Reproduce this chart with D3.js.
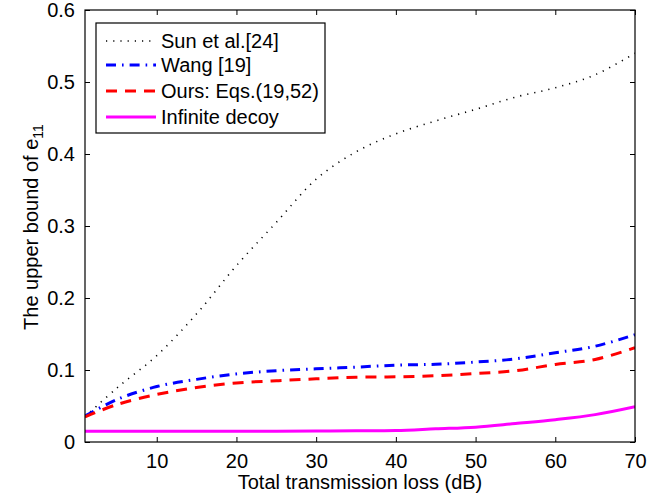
<!DOCTYPE html>
<html>
<head>
<meta charset="utf-8">
<script src="https://cdn.jsdelivr.net/npm/d3@7"></script>
<style>
  html, body { margin: 0; padding: 0; background: #fff; }
  svg text { font-family: "Liberation Sans", Arial, Helvetica, sans-serif; fill: #000; }
</style>
</head>
<body>
<svg id="chart" width="671" height="500"></svg>
<script>
// Total transmission loss (dB)
const lossDB = [1, 5, 10, 15, 20, 25, 30, 35, 40, 45, 50, 55, 60, 65, 70];

// Upper bound of e11 for each method
const sunEtAl  = [0.035, 0.075, 0.120, 0.178, 0.245, 0.305, 0.365, 0.403, 0.428, 0.446, 0.462, 0.479, 0.492, 0.510, 0.540];
const wang     = [0.036, 0.059, 0.077, 0.087, 0.0946, 0.099, 0.1016, 0.104, 0.1067, 0.108, 0.111, 0.1155, 0.124, 0.133, 0.149];
const ours     = [0.035, 0.052, 0.066, 0.0757, 0.082, 0.085, 0.0878, 0.090, 0.0906, 0.092, 0.095, 0.099, 0.1077, 0.1146, 0.131];
const infinite = [0.015, 0.015, 0.015, 0.015, 0.015, 0.015, 0.0152, 0.0155, 0.016, 0.0183, 0.0206, 0.0257, 0.031, 0.038, 0.049];

const xTicks = [10, 20, 30, 40, 50, 60, 70];
const yTicks = [0, 0.1, 0.2, 0.3, 0.4, 0.5, 0.6];

const seriesNames = ["Sun et al.[24]", "Wang [19]", "Ours: Eqs.(19,52)", "Infinite decoy"];
const seriesColors = ["#000000", "#0000ff", "#ff0000", "#ff00ff"];

const series = [
  { name: seriesNames[0], values: sunEtAl,  color: seriesColors[0], width: 1.6, dash: "1.2,6" },
  { name: seriesNames[1], values: wang,     color: seriesColors[1], width: 3,   dash: "10,6,1.6,6" },
  { name: seriesNames[2], values: ours,     color: seriesColors[2], width: 3,   dash: "11,8" },
  { name: seriesNames[3], values: infinite, color: seriesColors[3], width: 3,   dash: null }
];

const svg = d3.select("#chart");
const L = 85, R = 635, T = 10, B = 442;

const x = d3.scaleLinear().domain([1, 70]).range([L, R]);
const y = d3.scaleLinear().domain([0, 0.6]).range([B, T]);

const plot = svg.append("g");
plot.append("clipPath").attr("id", "clip")
  .append("rect").attr("x", L).attr("y", T).attr("width", R - L).attr("height", B - T);

const line = d3.line().curve(d3.curveCatmullRom.alpha(0.5));

const curves = plot.append("g").attr("clip-path", "url(#clip)");
series.forEach(s => {
  curves.append("path")
    .attr("d", line(lossDB.map((d, i) => [x(d), y(s.values[i])])))
    .attr("fill", "none")
    .attr("stroke", s.color)
    .attr("stroke-width", s.width)
    .attr("stroke-dasharray", s.dash)
    .attr("stroke-linejoin", "round");
});

// Axes: boxed frame with inward ticks on all four sides
const tickLen = 5;
const fmtY = v => v === 0 ? "0" : d3.format(".1f")(v);

const xBottom = d3.axisBottom(x).tickValues(xTicks).tickSize(-tickLen).tickPadding(12).tickFormat(d3.format("d"));
const xTop = d3.axisTop(x).tickValues(xTicks).tickSize(-tickLen).tickFormat("");
const yLeft = d3.axisLeft(y).tickValues(yTicks).tickSize(-tickLen).tickPadding(10).tickFormat(fmtY);
const yRight = d3.axisRight(y).tickValues(yTicks).tickSize(-tickLen).tickFormat("");

function styleAxis(g) {
  g.select(".domain").remove();
  g.selectAll(".tick line").attr("stroke", "#000").attr("stroke-width", 1);
  g.selectAll(".tick text").style("font-size", "20px").attr("fill", "#000");
}

svg.append("g").attr("transform", `translate(0,${B})`).call(xBottom).call(styleAxis);
svg.append("g").attr("transform", `translate(0,${T})`).call(xTop).call(styleAxis);
svg.append("g").attr("transform", `translate(${L},0)`).call(yLeft).call(styleAxis);
svg.append("g").attr("transform", `translate(${R},0)`).call(yRight).call(styleAxis);

svg.selectAll(".tick text").attr("font-family", null);

svg.append("rect")
  .attr("x", L).attr("y", T).attr("width", R - L).attr("height", B - T)
  .attr("fill", "none").attr("stroke", "#000").attr("stroke-width", 1.2);

// Axis titles
svg.append("text")
  .attr("x", (L + R) / 2).attr("y", 489)
  .attr("text-anchor", "middle")
  .style("font-size", "20px")
  .text("Total transmission loss (dB)");

const yt = svg.append("text")
  .attr("transform", "translate(38,227) rotate(-90)")
  .attr("text-anchor", "middle")
  .style("font-size", "20px");
yt.append("tspan").text("The upper bound of e");
yt.append("tspan").attr("dy", 5).style("font-size", "14px").text("11");

// Legend
const lg = svg.append("g");
lg.append("rect")
  .attr("x", 96).attr("y", 23).attr("width", 229).attr("height", 110)
  .attr("fill", "#fff").attr("stroke", "#000").attr("stroke-width", 1.2);

const rowY = [41, 65, 91, 117];
series.forEach((s, i) => {
  lg.append("line")
    .attr("x1", 106).attr("x2", 156)
    .attr("y1", rowY[i]).attr("y2", rowY[i])
    .attr("stroke", s.color)
    .attr("stroke-width", s.width)
    .attr("stroke-dasharray", s.dash);
  lg.append("text")
    .attr("x", 161).attr("y", rowY[i])
    .attr("dy", "0.36em")
    .style("font-size", "20px")
    .text(s.name);
});
</script>
</body>
</html>
